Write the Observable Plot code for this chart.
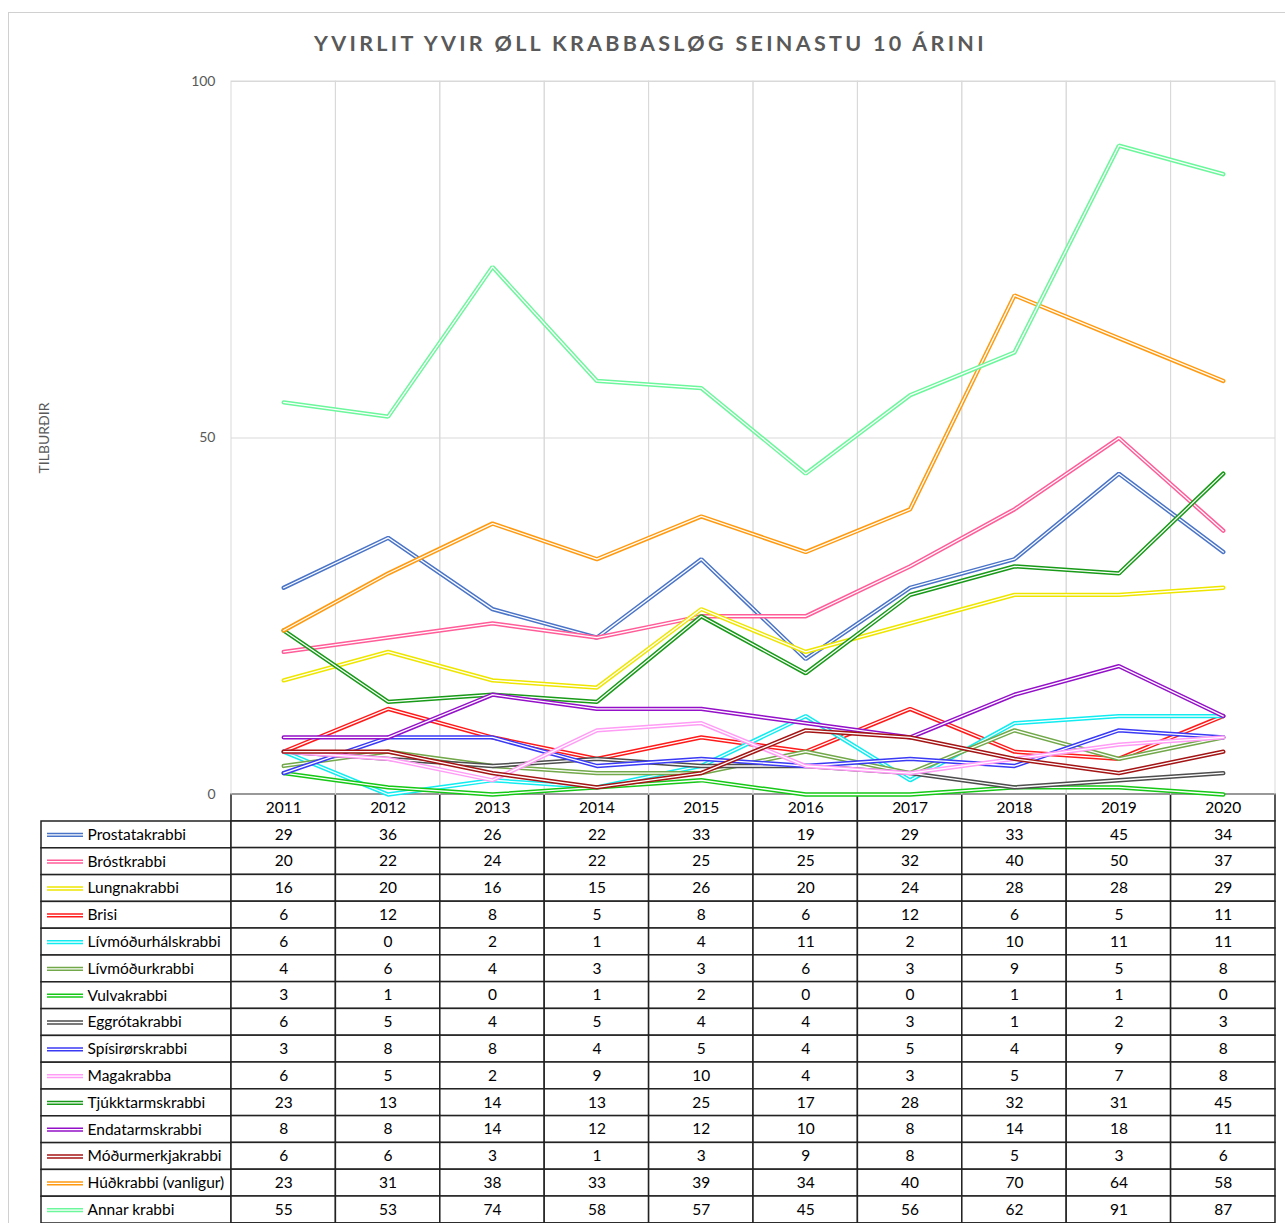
<!DOCTYPE html>
<html>
<head>
<meta charset="utf-8">
<script src="https://cdn.jsdelivr.net/npm/d3@7"></script>
<script src="https://cdn.jsdelivr.net/npm/@observablehq/plot@0.6"></script>
<style>
  html, body { margin: 0; padding: 0; background: #fff; }
  #wrap { position: relative; width: 1285px; height: 1223px; overflow: hidden; font-family: Lato, "Open Sans", sans-serif; }
  #border { position: absolute; left: 8px; top: 12px; width: 1300px; height: 1240px; border: 1px solid #d0d0d0; box-sizing: border-box; }
  #title { position: absolute; left: 8px; width: 1285px; top: 30px; text-align: center; font-weight: bold; font-size: 21.5px; letter-spacing: 3.3px; color: #595959; }
  .abs { position: absolute; }
  svg { display: block; }
</style>
</head>
<body>
<div id="wrap">
  <div id="border"></div>
  <div id="title">YVIRLIT YVIR ØLL KRABBASLØG SEINASTU 10 ÁRINI</div>
  <div id="labels" class="abs"></div>
  <div id="table" class="abs"></div>
  <div id="chart" class="abs"></div>
</div>
<script>
const years = ["2011","2012","2013","2014","2015","2016","2017","2018","2019","2020"];
const seriesNames = ["Prostatakrabbi","Bróstkrabbi","Lungnakrabbi","Brisi","Lívmóðurhálskrabbi","Lívmóðurkrabbi","Vulvakrabbi","Eggrótakrabbi","Spísirørskrabbi","Magakrabba","Tjúkktarmskrabbi","Endatarmskrabbi","Móðurmerkjakrabbi","Húðkrabbi (vanligur)","Annar krabbi"];
const seriesColors = ["#4a74c8","#ff5c98","#eee600","#ff1a1a","#11ecf0","#72a84a","#16c816","#4d4d4d","#3a3af5","#ff9cf5","#189a18","#9410c8","#a41414","#ff9a10","#6cf79c"];
const prostatakrabbi = [29,36,26,22,33,19,29,33,45,34];
const broestkrabbi = [20,22,24,22,25,25,32,40,50,37];
const lungnakrabbi = [16,20,16,15,26,20,24,28,28,29];
const brisi = [6,12,8,5,8,6,12,6,5,11];
const livmodurhalskrabbi = [6,0,2,1,4,11,2,10,11,11];
const livmodurkrabbi = [4,6,4,3,3,6,3,9,5,8];
const vulvakrabbi = [3,1,0,1,2,0,0,1,1,0];
const eggrotakrabbi = [6,5,4,5,4,4,3,1,2,3];
const spisirorskrabbi = [3,8,8,4,5,4,5,4,9,8];
const magakrabba = [6,5,2,9,10,4,3,5,7,8];
const tjukktarmskrabbi = [23,13,14,13,25,17,28,32,31,45];
const endatarmskrabbi = [8,8,14,12,12,10,8,14,18,11];
const modurmerkjakrabbi = [6,6,3,1,3,9,8,5,3,6];
const hudkrabbi = [23,31,38,33,39,34,40,70,64,58];
const annarKrabbi = [55,53,74,58,57,45,56,62,91,87];
const yTicks = [0,50,100];

const seriesValues = [prostatakrabbi,broestkrabbi,lungnakrabbi,brisi,livmodurhalskrabbi,livmodurkrabbi,vulvakrabbi,eggrotakrabbi,spisirorskrabbi,magakrabba,tjukktarmskrabbi,endatarmskrabbi,modurmerkjakrabbi,hudkrabbi,annarKrabbi];

const rows = seriesNames.flatMap((name, si) => years.map((year, yi) => ({name, year, value: seriesValues[si][yi], color: seriesColors[si]})));
const colorOf = Object.fromEntries(seriesNames.map((n, i) => [n, seriesColors[i]]));

const W = 1285, PL = 231, PR = 10;
const rowH = 26.8;
const chartTop = 60, plotTop = 81, plotBottom = 794;
const font = "Lato, 'Open Sans', sans-serif";
const outerW = 4.3, innerW = 1.3;

// ---- line chart
const lineMarks = seriesNames.flatMap(name => {
  const d = rows.filter(r => r.name === name);
  return [
    Plot.line(d, {x: "year", y: "value", stroke: colorOf[name], strokeWidth: outerW, strokeLinejoin: "miter", curve: "linear"}),
    Plot.line(d, {x: "year", y: "value", stroke: "#fff", strokeWidth: innerW, strokeLinejoin: "miter", curve: "linear"})
  ];
});

const chart = Plot.plot({
  width: W,
  height: plotBottom - chartTop,
  marginTop: plotTop - chartTop,
  marginBottom: 0,
  marginLeft: PL,
  marginRight: PR,
  style: {background: "none", overflow: "visible", fontFamily: font, fontSize: "14px", color: "#595959"},
  x: {type: "band", domain: years, padding: 0, round: false, axis: null},
  y: {domain: [0, 100]},
  marks: [
    Plot.cell(years, {x: d => d, stroke: "#d9d9d9", fill: "none", strokeWidth: 1}),
    Plot.ruleY([50, 100], {stroke: "#d9d9d9", strokeWidth: 1}),
    Plot.axisY({ticks: yTicks, tickSize: 0, tickPadding: 16, label: "TILBURÐIR", labelAnchor: "center", labelOffset: 192, labelArrow: "none", fontSize: 14, color: "#595959"}),
    ...lineMarks
  ]
});
const chartDiv = document.getElementById("chart");
chartDiv.style.left = "0px";
chartDiv.style.top = chartTop + "px";
chartDiv.appendChild(chart);

// ---- data table (years)
const tableDomain = ["header", ...seriesNames];
const table = Plot.plot({
  width: W,
  height: rowH * tableDomain.length,
  marginTop: 0, marginBottom: 0, marginLeft: PL, marginRight: PR,
  style: {background: "none", overflow: "visible", fontFamily: font, fontSize: "15.5px", color: "#000"},
  x: {type: "band", domain: years, padding: 0, round: false, axis: null},
  y: {type: "band", domain: tableDomain, padding: 0, round: false, axis: null},
  marks: [
    Plot.cell(rows, {x: "year", y: "name", fill: "#fff", stroke: "#222", strokeWidth: 1.5}),
    Plot.cell(years, {x: d => d, y: () => "header", fill: "#fff", stroke: "#222", strokeWidth: 1.5}),
    Plot.text(years, {x: d => d, y: () => "header", text: d => d, fill: "#000", fontSize: 15.5}),
    Plot.text(rows, {x: "year", y: "name", text: d => String(d.value), fill: "#000", fontSize: 15.5})
  ]
});
const tableDiv = document.getElementById("table");
tableDiv.style.left = "0px";
tableDiv.style.top = plotBottom + "px";
tableDiv.appendChild(table);

// ---- label column with legend swatches
const LW = 231, LL = 41;
const labels = Plot.plot({
  width: LW,
  height: rowH * seriesNames.length,
  marginTop: 0, marginBottom: 0, marginLeft: LL, marginRight: 0,
  style: {background: "none", overflow: "visible", fontFamily: font, fontSize: "15.5px", color: "#000"},
  x: {type: "band", domain: ["label"], padding: 0, round: false, axis: null},
  y: {type: "band", domain: seriesNames, padding: 0, round: false, axis: null},
  marks: [
    Plot.cell(seriesNames, {x: () => "label", y: d => d, fill: "#fff", stroke: "#222", strokeWidth: 1.5}),
    Plot.tickY(seriesNames, {x: () => "label", y: d => d, stroke: d => colorOf[d], strokeWidth: outerW, insetLeft: 6, insetRight: 148}),
    Plot.tickY(seriesNames, {x: () => "label", y: d => d, stroke: "#fff", strokeWidth: innerW, insetLeft: 6, insetRight: 148}),
    Plot.text(seriesNames, {x: () => "label", y: d => d, text: d => d, textAnchor: "start", dx: -49, fill: "#000", fontSize: 15.5})
  ],
  color: {type: "identity"}
});
const labelsDiv = document.getElementById("labels");
labelsDiv.style.left = "0px";
labelsDiv.style.top = (plotBottom + rowH) + "px";
labelsDiv.appendChild(labels);
</script>
</body>
</html>
